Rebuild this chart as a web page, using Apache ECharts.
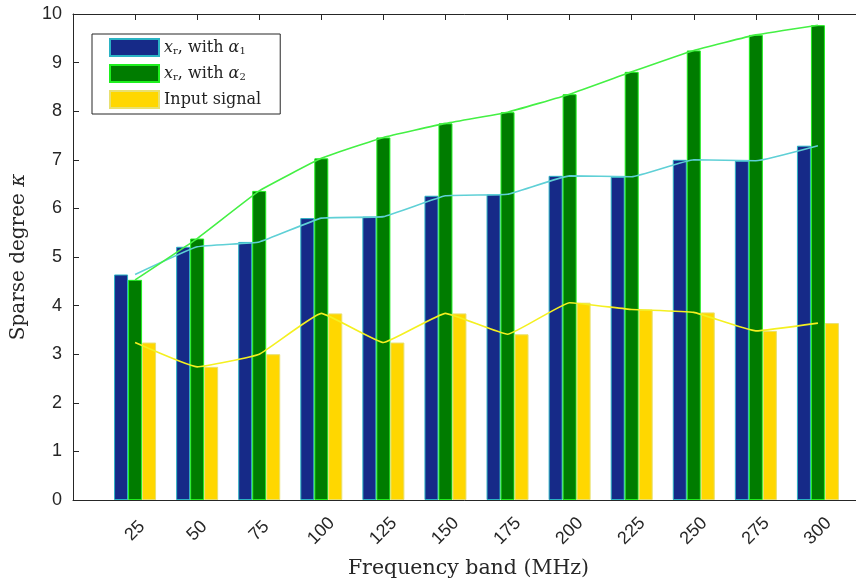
<!DOCTYPE html>
<html>
<head>
<meta charset="utf-8">
<script src="https://cdn.jsdelivr.net/npm/echarts@6/dist/echarts.min.js"></script>
<style>html,body{margin:0;padding:0;background:#fff;}#c{width:856px;height:585px;}</style>
</head>
<body>
<div id="c"></div>
<script>
const categories = ['25','50','75','100','125','150','175','200','225','250','275','300'];
const xrAlpha1 = [4.64,5.21,5.31,5.80,5.83,6.26,6.29,6.67,6.65,7.00,6.98,7.29];
const xrAlpha2 = [4.53,5.38,6.36,7.03,7.46,7.75,7.98,8.35,8.81,9.25,9.57,9.77];
const inputSignal = [3.24,2.74,3.00,3.84,3.24,3.84,3.41,4.06,3.92,3.86,3.48,3.64];
const seriesNames = ['xr_alpha1','xr_alpha2','Input signal'];
const legendLabels = {
  'xr_alpha1': '{it|x}{sub|r}{t|, with }{it|α}{sub|1}',
  'xr_alpha2': '{it|x}{sub|r}{t|, with }{it|α}{sub|2}',
  'Input signal': '{t|Input signal}'
};
const yMin = 0, yMax = 10, yStep = 1;

const pad = v => ['-'].concat(v, ['-']);
const axisCats = [''].concat(categories, ['']);
const realTick = (i) => i > 0 && i < axisCats.length - 1;
const axisColor = '#262626';
const serif = 'DejaVu Serif';

const chart = echarts.init(document.getElementById('c'), null, {renderer: 'canvas'});
const barCommon = {type: 'bar', barWidth: 14, barGap: '0%', xAxisIndex: 0};
const lineCommon = {type: 'line', symbol: 'none', smooth: 0.1, xAxisIndex: 0, z: 5};

chart.setOption({
  animation: false,
  backgroundColor: '#fff',
  grid: {left: 73, top: 14, width: 807, height: 486, containLabel: false, outerBoundsMode: 'none'},
  legend: {
    data: seriesNames,
    orient: 'vertical',
    left: 92, top: 34,
    itemWidth: 49, itemHeight: 17, itemGap: 7,
    padding: [4, 19, 5, 17],
    borderColor: axisColor, borderWidth: 1, backgroundColor: '#fff',
    icon: 'rect',
    formatter: n => legendLabels[n],
    textStyle: {
      color: '#222', fontFamily: serif, fontSize: 16, lineHeight: 17,
      rich: {
        t: {fontFamily: serif, fontSize: 16, color: '#222', lineHeight: 17},
        it: {fontFamily: serif, fontSize: 16, fontStyle: 'italic', color: '#222', lineHeight: 17},
        sub: {fontFamily: serif, fontSize: 10, color: '#222', verticalAlign: 'bottom', lineHeight: 12}
      }
    }
  },
  xAxis: [{
    type: 'category', data: axisCats, boundaryGap: false, position: 'bottom',
    axisLine: {show: true, lineStyle: {color: axisColor, width: 1}},
    axisTick: {show: true, inside: true, length: 6, interval: realTick, lineStyle: {color: axisColor}},
    axisLabel: {interval: 0, rotate: 45, align: 'center', verticalAlign: 'middle', margin: 31,
      fontFamily: 'Liberation Sans', fontSize: 18, color: axisColor},
    splitLine: {show: false},
    name: 'Frequency band (MHz)', nameLocation: 'middle', nameGap: 58,
    nameTextStyle: {fontFamily: serif, fontSize: 20.5, color: axisColor, padding: [0, 16, 0, 0]}
  }, {
    type: 'category', data: axisCats, boundaryGap: false, position: 'top',
    axisLine: {show: true, lineStyle: {color: axisColor, width: 1}},
    axisTick: {show: true, inside: true, length: 6, interval: realTick, lineStyle: {color: axisColor}},
    axisLabel: {show: false}, splitLine: {show: false}
  }],
  yAxis: {
    type: 'value', min: yMin, max: yMax, interval: yStep,
    axisLine: {show: true, lineStyle: {color: axisColor, width: 1}},
    axisTick: {show: true, inside: true, length: 6, lineStyle: {color: axisColor}},
    axisLabel: {fontFamily: 'Liberation Sans', fontSize: 18, color: axisColor, margin: 11},
    splitLine: {show: false},
    name: '{n|Sparse degree }{it|κ}', nameLocation: 'middle', nameGap: 44,
    nameTextStyle: {
      rich: {
        n: {fontFamily: serif, fontSize: 20, color: axisColor},
        it: {fontFamily: serif, fontSize: 20, fontStyle: 'italic', color: axisColor}
      }
    }
  },
  series: [
    Object.assign({}, barCommon, {name: seriesNames[0], data: pad(xrAlpha1),
      itemStyle: {color: '#162a88', borderColor: '#2bb3c4', borderWidth: 1}}),
    Object.assign({}, barCommon, {name: seriesNames[1], data: pad(xrAlpha2),
      itemStyle: {color: '#007c00', borderColor: '#1ef01e', borderWidth: 1}}),
    Object.assign({}, barCommon, {name: seriesNames[2], data: pad(inputSignal),
      itemStyle: {color: '#ffd700', borderColor: '#e8e070', borderWidth: 1}}),
    Object.assign({}, lineCommon, {name: 'line1', data: pad(xrAlpha1),
      lineStyle: {color: '#5fd0d6', width: 1.6}}),
    Object.assign({}, lineCommon, {name: 'line2', data: pad(xrAlpha2),
      lineStyle: {color: '#44f044', width: 1.6}}),
    Object.assign({}, lineCommon, {name: 'line3', data: pad(inputSignal),
      lineStyle: {color: '#f4f020', width: 1.6}})
  ]
});
</script>
</body>
</html>
